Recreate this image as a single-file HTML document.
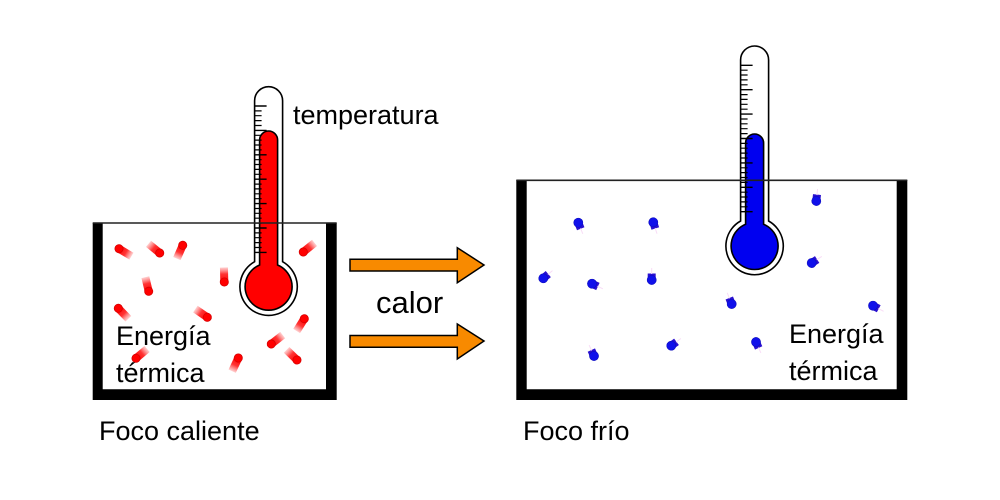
<!DOCTYPE html>
<html>
<head>
<meta charset="utf-8">
<style>
html,body{margin:0;padding:0;background:#fff}
svg{display:block}
text{font-family:"Liberation Sans",sans-serif;font-size:27px;fill:#000}
</style>
</head>
<body>
<svg width="1000" height="500" viewBox="0 0 1000 500" xmlns="http://www.w3.org/2000/svg">
<defs>
  <linearGradient id="rg" x1="0" x2="14.5" y1="0" y2="0" gradientUnits="userSpaceOnUse">
    <stop offset="0" stop-color="#f00"/>
    <stop offset=".55" stop-color="#f11" stop-opacity=".85"/>
    <stop offset="1" stop-color="#f44" stop-opacity=".25"/>
  </linearGradient>
  <g id="r">
    <rect x="0" y="-4" width="14.5" height="8" fill="url(#rg)"/>
    <circle r="4.1" fill="#f00" stroke="#d80000" stroke-width=".8"/>
  </g>
  <g id="b">
    <rect x="0" y="-4" width="6.5" height="8" fill="#2a10d0"/>
    <line x1="6" y1="0" x2="12" y2="0" stroke="#f8dcf6" stroke-width="1"/>
    <circle r="4.6" fill="#1010ea" stroke="#0a0ab8" stroke-width=".5"/>
  </g>
  <g id="ticks" stroke="#000" stroke-width="1.2">
    <path d="M-14,-180.7H-2M-14,-156.3H-2M-14,-131.9H-2M-14,-107.5H-2M-14,-83.1H-2M-14,-58.7H-2M-14,-34.3H-2" stroke-width="1.4"/>
    <path d="M-14,-175.8H-7M-14,-171H-7M-14,-166.1H-7M-14,-161.2H-7M-14,-151.4H-7M-14,-146.6H-7M-14,-141.7H-7M-14,-136.8H-7M-14,-127H-7M-14,-122.2H-7M-14,-117.3H-7M-14,-112.4H-7M-14,-102.6H-7M-14,-97.8H-7M-14,-92.9H-7M-14,-88H-7M-14,-78.2H-7M-14,-73.4H-7M-14,-68.5H-7M-14,-63.6H-7M-14,-53.8H-7M-14,-49H-7M-14,-44.1H-7M-14,-39.2H-7"/>
  </g>
</defs>

<!-- Left box -->
<path d="M92.7,223H102.7V389.3H326V223H336.7V400H92.7Z" fill="#000"/>

<!-- Left particles -->
<use href="#r" transform="translate(119,248.7) rotate(31)"/>
<use href="#r" transform="translate(159.7,253) rotate(219.5)"/>
<use href="#r" transform="translate(182.7,245.3) rotate(113.7)"/>
<use href="#r" transform="translate(148.7,291.3) rotate(256.6)"/>
<use href="#r" transform="translate(224.3,282) rotate(268.6)"/>
<use href="#r" transform="translate(303.3,252) rotate(-39)"/>
<use href="#r" transform="translate(118.3,308.3) rotate(46)"/>
<use href="#r" transform="translate(207.3,317.3) rotate(214.5)"/>
<use href="#r" transform="translate(304.3,318.7) rotate(122)"/>
<use href="#r" transform="translate(271.3,344) rotate(-38)"/>
<use href="#r" transform="translate(297,360) rotate(224)"/>
<use href="#r" transform="translate(136,358.3) rotate(-40)"/>
<use href="#r" transform="translate(238.3,358) rotate(115)"/>

<!-- Left thermometer -->
<g transform="translate(268.6,286.7)">
  <path d="M-14,-25V-186A14,14 0 0 1 14,-186V-25A28.7,28.7 0 1 1 -14,-25Z" fill="#fff" stroke="#000" stroke-width="1.6"/>
  <path d="M-9,-21.7V-146.7A9,9 0 0 1 9,-146.7V-21.7A23.5,23.5 0 1 1 -9,-21.7Z" fill="#f00" stroke="#000" stroke-width="1.6"/>
  <use href="#ticks"/>
</g>
<line x1="92.7" y1="223" x2="336.7" y2="223" stroke="#222" stroke-width="1.6"/>

<!-- Right box -->
<path d="M516.3,180H526.7V389.3H896.7V180H907.3V400H516.3Z" fill="#000"/>

<!-- Right particles -->
<use href="#b" transform="translate(578.3,222.7) rotate(68)"/>
<use href="#b" transform="translate(653.3,222.3) rotate(72)"/>
<use href="#b" transform="translate(816.3,201) rotate(-84)"/>
<use href="#b" transform="translate(543.3,278.3) rotate(-40)"/>
<use href="#b" transform="translate(592,283.7) rotate(25)"/>
<use href="#b" transform="translate(651.7,280) rotate(-90)"/>
<use href="#b" transform="translate(811.7,263) rotate(-33)"/>
<use href="#b" transform="translate(731.7,304) rotate(248)"/>
<use href="#b" transform="translate(873,305.7) rotate(28)"/>
<use href="#b" transform="translate(594,356) rotate(246)"/>
<use href="#b" transform="translate(671.3,345.7) rotate(-37)"/>
<use href="#b" transform="translate(756,342) rotate(66)"/>

<!-- Right thermometer -->
<g transform="translate(754.6,246)">
  <path d="M-14,-25V-186A14,14 0 0 1 14,-186V-25A28.7,28.7 0 1 1 -14,-25Z" fill="#fff" stroke="#000" stroke-width="1.6"/>
  <path d="M-9,-21.7V-103A9,9 0 0 1 9,-103V-21.7A23.5,23.5 0 1 1 -9,-21.7Z" fill="#0000f0" stroke="#000" stroke-width="1.6"/>
  <use href="#ticks"/>
</g>
<line x1="516.3" y1="180.3" x2="907.3" y2="180.3" stroke="#222" stroke-width="1.6"/>

<!-- Arrows -->
<path d="M350,259.2H457.3V247.7L484,265L457.3,282.7V271H350Z" fill="#f88a00" stroke="#000" stroke-width="1.5"/>
<path d="M350,335.5H457.3V324L484,341L457.3,359V347.3H350Z" fill="#f88a00" stroke="#000" stroke-width="1.5"/>

<!-- Labels -->
<text x="293" y="124">temperatura</text>
<text x="376" y="313" style="font-size:31px">calor</text>
<text x="116" y="345">Energía</text>
<text x="116" y="382">térmica</text>
<text x="789" y="343">Energía</text>
<text x="789" y="380">térmica</text>
<text x="99" y="440">Foco caliente</text>
<text x="523" y="440">Foco frío</text>
</svg>
</body>
</html>
